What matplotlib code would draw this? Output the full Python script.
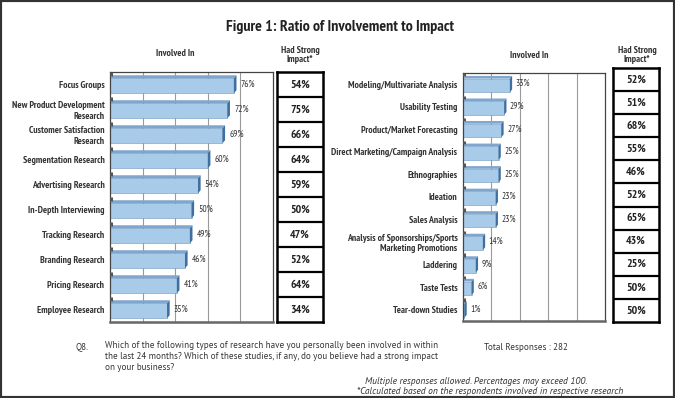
import matplotlib
matplotlib.use("Agg")
import matplotlib.pyplot as plt
from matplotlib.patches import Polygon, Rectangle

plt.rcParams['font.family'] = ['PT Sans Narrow', 'DejaVu Sans']

left_cats = ["Focus Groups", "New Product Development\nResearch", "Customer Satisfaction\nResearch",
             "Segmentation Research", "Advertising Research", "In-Depth Interviewing",
             "Tracking Research", "Branding Research", "Pricing Research", "Employee Research"]
left_involved = [76, 72, 69, 60, 54, 50, 49, 46, 41, 35]
left_impact = [54, 75, 66, 64, 59, 50, 47, 52, 64, 34]

right_cats = ["Modeling/Multivariate Analysis", "Usability Testing", "Product/Market Forecasting",
              "Direct Marketing/Campaign Analysis", "Ethnographies", "Ideation", "Sales Analysis",
              "Analysis of Sponsorships/Sports\nMarketing Promotions", "Laddering", "Taste Tests",
              "Tear-down Studies"]
right_involved = [33, 29, 27, 25, 25, 23, 23, 14, 9, 6, 1]
right_impact = [52, 51, 68, 55, 46, 52, 65, 43, 25, 50, 50]

W, H = 675, 398
fig = plt.figure(figsize=(W / 100, H / 100), dpi=100)
fig.patch.set_facecolor('white')

def fx(px):
    return px / W

def fy(py):
    return 1 - py / H

FACE = '#a9cbea'
TOP = '#7fa6cf'
SIDE = '#3f6f9f'
TXT = '#333333'
BODY = ['PT Sans', 'DejaVu Sans']


def bar_panel(rect, cats, vals):
    ax = fig.add_axes(rect)
    n = len(cats)
    ax.set_xlim(0, 100)
    ax.set_ylim(n - 0.5, -0.5)
    h = 0.6
    dx, dy = 1.6, 0.12
    for g in [20, 40, 60, 80]:
        ax.axvline(g, color='#9a9a9a', lw=0.8, zorder=0)
    for i, v in enumerate(vals):
        y0 = i - h / 2 + 0.05
        ax.add_patch(Rectangle((0, y0), v, h, facecolor=FACE,
                               edgecolor='#6f95bd', lw=0.4, zorder=2))
        ax.add_patch(Polygon([(0, y0), (dx, y0 - dy), (v + dx, y0 - dy), (v, y0)],
                             closed=True, facecolor=TOP, edgecolor='none', zorder=2))
        ax.add_patch(Polygon([(v, y0 + h), (v + dx, y0 + h - dy), (v + dx, y0 - dy), (v, y0)],
                             closed=True, facecolor=SIDE, edgecolor='none', zorder=3))
        ax.plot([0.5, 0.5], [i - 0.5, y0 - 0.1], color='#555555', lw=2.2,
                solid_capstyle='butt', zorder=3)
        ax.text(v + dx + 2.5, i - 0.02, f"{v}%", fontsize=6.8, color=TXT,
                va='center', ha='left', zorder=4)
    ax.set_yticks(range(n))
    ax.set_yticklabels(cats, fontsize=7, fontweight='bold', color=TXT, linespacing=1.15)
    ax.tick_params(axis='y', length=0, pad=4)
    ax.set_xticks([])
    for s in ax.spines.values():
        s.set_color('#444444')
        s.set_linewidth(0.9)
    ax.spines['bottom'].set_linewidth(1.8)
    ax.spines['bottom'].set_color('#666666')
    return ax


def table_panel(rect, vals):
    ax = fig.add_axes(rect)
    n = len(vals)
    ax.set_xlim(0, 1)
    ax.set_ylim(n, 0)
    for i in range(1, n):
        ax.axhline(i, color='black', lw=1.6)
    for i, v in enumerate(vals):
        ax.text(0.5, i + 0.5, f"{v}%", ha='center', va='center', fontsize=8.5,
                fontweight='bold', color='#222222')
    ax.set_xticks([])
    ax.set_yticks([])
    for s in ax.spines.values():
        s.set_color('black')
        s.set_linewidth(1.8)
    return ax


bar_panel([fx(110), fy(322), fx(273 - 110), (322 - 72) / H], left_cats, left_involved)
table_panel([fx(277), fy(322), fx(46), (322 - 72) / H], left_impact)
bar_panel([fx(463), fy(321), fx(605 - 463), (321 - 73) / H], right_cats, right_involved)
table_panel([fx(613), fy(322), fx(46), (322 - 68) / H], right_impact)

fig.text(fx(340), fy(27), "Figure 1: Ratio of Involvement to Impact", ha='center', va='center',
         fontsize=11.4, fontweight='bold', color='#222222')
fig.text(fx(175), fy(53), "Involved In", ha='center', va='center', fontsize=7,
         fontweight='bold', color=TXT)
fig.text(fx(300), fy(55), "Had Strong\nImpact*", ha='center', va='center', fontsize=7,
         fontweight='bold', color=TXT, linespacing=1.05)
fig.text(fx(529), fy(55), "Involved In", ha='center', va='center', fontsize=7,
         fontweight='bold', color=TXT)
fig.text(fx(637), fy(55), "Had Strong\nImpact*", ha='center', va='center', fontsize=7,
         fontweight='bold', color=TXT, linespacing=1.05)

fig.text(fx(76), fy(348), "Q8.", ha='left', va='center', fontsize=6.5, color=TXT, family=BODY)
fig.text(fx(105), fy(341), "Which of the following types of research have you personally been involved in within\n"
         "the last 24 months? Which of these studies, if any, do you believe had a strong impact\n"
         "on your business?", ha='left', va='top', fontsize=6.5, color=TXT, linespacing=1.25,
         family=BODY)
fig.text(fx(484), fy(348), "Total Responses : 282", ha='left', va='center', fontsize=6.5,
         color=TXT, family=BODY)
fig.text(fx(476), fy(381), "Multiple responses allowed. Percentages may exceed 100.", ha='center',
         va='center', fontsize=6.8, style='italic', color=TXT, family=BODY)
fig.text(fx(490), fy(392), "*Calculated based on the respondents involved in respective research",
         ha='center', va='center', fontsize=6.8, style='italic', color=TXT, family=BODY)

fig.add_artist(Rectangle((0, 0), 1, 1, transform=fig.transFigure, fill=False,
                         edgecolor='#333333', lw=3))

fig.savefig("out.png", dpi=100)
